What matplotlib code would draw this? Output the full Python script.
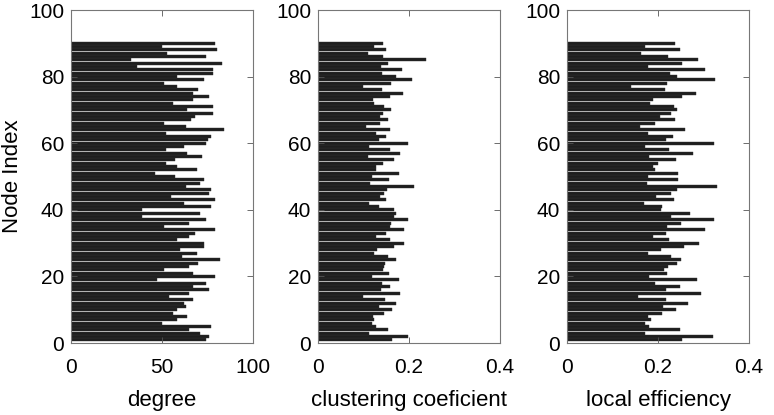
import matplotlib
matplotlib.use('Agg')
import matplotlib.pyplot as plt
import numpy as np

plt.rcParams['font.family'] = ['Liberation Sans', 'DejaVu Sans']

# values read top-down (node 90 first), reversed below to node order 1..90
degree_top_down = [79, 50, 80, 53, 74, 33, 83, 36, 78, 78, 58, 73, 51, 58, 70,
                   67, 76, 67, 56, 78, 64, 78, 68, 66, 51, 63, 84, 52, 77, 75,
                   74, 62, 52, 64, 72, 57, 52, 58, 69, 46, 57, 73, 71, 63, 77,
                   76, 55, 79, 62, 77, 39, 71, 39, 74, 65, 51, 79, 68, 65, 58, 73,
                   73, 60, 69, 61, 82, 70, 65, 51, 67, 79, 47, 74, 67, 76, 65,
                   54, 67, 62, 63, 58, 56, 64, 58, 50, 77, 65, 71, 76, 74]
clustering_top_down = [.143, .123, .149, .109, .143, .237, .153, .139, .184, .140,
                       .171, .206, .161, .098, .140, .186, .158, .120, .124, .146,
                       .161, .142, .136, .153, .136, .105, .158, .128, .149, .133,
                       .197, .111, .158, .180, .109, .167, .142, .128, .127, .178,
                       .118, .156, .114, .212, .152, .145, .136, .149, .112, .133,
                       .167, .172, .168, .197, .161, .158, .189, .150, .127, .159, .189,
                       .167, .130, .123, .153, .172, .148, .145, .142, .155, .118,
                       .178, .140, .159, .139, .180, .099, .148, .171, .134, .162,
                       .145, .121, .123, .118, .128, .153, .112, .197, .162]
efficiency_top_down = [.238, .171, .248, .162, .222, .288, .253, .179, .304, .226,
                       .241, .326, .219, .140, .216, .284, .253, .190, .182, .235,
                       .241, .229, .204, .237, .194, .160, .260, .177, .234, .218,
                       .323, .171, .225, .276, .181, .240, .200, .190, .194, .245,
                       .177, .244, .175, .329, .241, .229, .196, .235, .169, .209,
                       .206, .270, .228, .322, .251, .219, .303, .218, .188, .225, .291,
                       .257, .206, .178, .229, .250, .242, .223, .213, .219, .181,
                       .286, .194, .248, .218, .295, .155, .218, .266, .212, .240,
                       .209, .179, .185, .172, .181, .248, .171, .320, .253]

degree = degree_top_down[::-1]
clustering = clustering_top_down[::-1]
efficiency = efficiency_top_down[::-1]
nodes = np.arange(1, len(degree) + 1)

panels = [
    (degree, 'degree', 100, [0, 50, 100], ['0', '50', '100']),
    (clustering, 'clustering coeficient', 0.4, [0, 0.2, 0.4], ['0', '0.2', '0.4']),
    (efficiency, 'local efficiency', 0.4, [0, 0.2, 0.4], ['0', '0.2', '0.4']),
]
lefts = [71 / 774, 318 / 774, 567 / 774]

fig = plt.figure(figsize=(7.74, 4.15), dpi=100)
for i, (vals, label, xmax, xt, xtl) in enumerate(panels):
    ax = fig.add_axes([lefts[i], 72 / 415, 182 / 774, 333 / 415])
    ax.barh(nodes, vals, height=0.9, color='#1e1e1e', edgecolor='#333333', linewidth=0.3)
    ax.set_xlim(0, xmax)
    ax.set_ylim(0, 100)
    ax.set_xticks(xt)
    ax.set_xticklabels(xtl)
    ax.set_yticks([0, 20, 40, 60, 80, 100])
    ax.tick_params(direction='in', top=True, right=True, labelsize=15,
                   length=4, width=0.6, color='#555555')
    ax.tick_params(axis='x', pad=11)
    ax.tick_params(axis='y', pad=5)
    for s in ax.spines.values():
        s.set_color('#777777')
        s.set_linewidth(0.8)
    ax.set_xlabel(label, fontsize=16, labelpad=9)
    if i == 0:
        ax.set_ylabel('Node Index', fontsize=16, labelpad=4)

fig.savefig('out.png', dpi=100)
